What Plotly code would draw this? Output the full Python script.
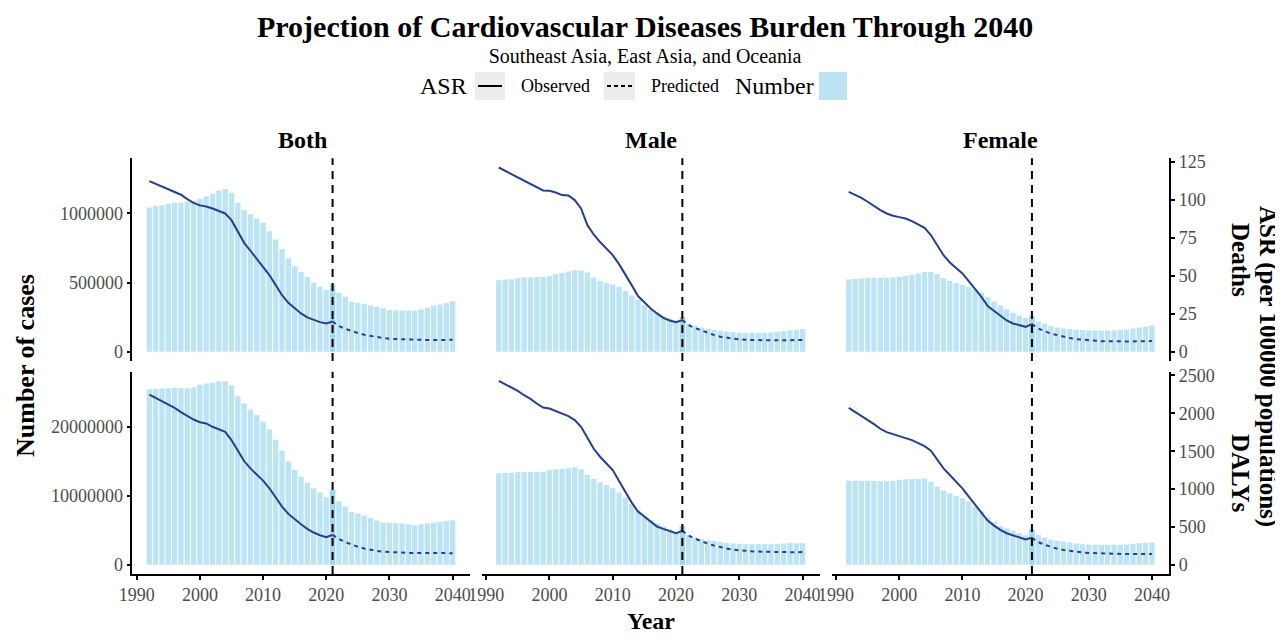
import plotly.graph_objects as go

# ---------------- data ----------------
years_obs = list(range(1992, 2022))
years_pred = list(range(2021, 2041))
sexes = ["Both", "Male", "Female"]
measures = ["Deaths", "DALYs"]
x_ticks = [1990, 2000, 2010, 2020, 2030, 2040]
deaths_num_ticks = [0, 500000, 1000000]
dalys_num_ticks = [0, 10000000, 20000000]
deaths_asr_ticks = [0, 25, 50, 75, 100, 125]
dalys_asr_ticks = [0, 500, 1000, 1500, 2000, 2500]

# Deaths - number of cases
both_deaths_num_obs = [1043000, 1053000, 1060000, 1070000, 1077000, 1080000, 1082000, 1090000, 1106000, 1125000,
                       1142000, 1166000, 1176000, 1149000, 1077000, 1024000, 995000, 964000, 933000, 872000,
                       812000, 742000, 675000, 619000, 576000, 540000, 501000, 470000, 446000, 489000]
both_deaths_num_pred = [489000, 427000, 398000, 361000, 354000, 345000, 335000, 325000, 316000, 301000,
                        299000, 299000, 299000, 296000, 306000, 320000, 333000, 342000, 352000, 366000]
male_deaths_num_obs = [518000, 523000, 525000, 533000, 537000, 537000, 540000, 542000, 547000, 562000,
                       571000, 581000, 590000, 588000, 574000, 537000, 513000, 499000, 487000, 470000,
                       441000, 407000, 374000, 337000, 306000, 282000, 260000, 241000, 227000, 253000]
male_deaths_num_pred = [253000, 205000, 188000, 176000, 166000, 159000, 152000, 147000, 142000, 137000,
                        137000, 137000, 137000, 137000, 140000, 145000, 149000, 154000, 159000, 164000]
female_deaths_num_obs = [525000, 528000, 530000, 533000, 535000, 535000, 535000, 537000, 542000, 549000,
                         557000, 566000, 576000, 576000, 562000, 533000, 511000, 496000, 484000, 470000,
                         451000, 427000, 395000, 364000, 335000, 306000, 282000, 263000, 246000, 260000]
female_deaths_num_pred = [260000, 219000, 202000, 186000, 176000, 169000, 164000, 159000, 157000, 154000,
                          154000, 154000, 154000, 154000, 157000, 161000, 169000, 176000, 183000, 190000]

# Deaths - ASR
both_deaths_asr_obs = [112.2, 110.4, 108.9, 107.1, 105.4, 103.2, 100.3, 97.9, 96.2, 95.5,
                       94.2, 92.7, 90.9, 86.5, 78.9, 71.6, 66.4, 61.3, 55.8, 50.4,
                       43.8, 37.2, 32.2, 28.5, 25.2, 22.6, 20.8, 19.5, 18.6, 19.9]
both_deaths_asr_pred = [19.9, 16.9, 15.1, 13.6, 12.3, 11.2, 10.3, 9.6, 9.0, 8.5,
                        8.3, 8.1, 7.9, 7.8, 7.7, 7.7, 7.7, 7.8, 7.8, 7.9]
male_deaths_asr_obs = [121.1, 118.9, 116.8, 115.0, 112.8, 110.6, 108.0, 106.0, 105.8, 104.7,
                       103.0, 102.7, 99.7, 94.2, 83.2, 77.1, 72.1, 67.5, 63.5, 57.6,
                       51.0, 43.8, 36.6, 32.2, 28.5, 25.2, 22.3, 20.6, 19.5, 20.8]
male_deaths_asr_pred = [20.8, 17.5, 15.6, 14.0, 12.5, 11.0, 9.9, 9.2, 8.5, 8.1,
                        7.9, 7.7, 7.6, 7.5, 7.5, 7.5, 7.5, 7.6, 7.7, 7.8]
female_deaths_asr_obs = [105.1, 103.4, 101.2, 98.6, 95.7, 93.1, 90.9, 89.4, 88.5, 87.6,
                         85.9, 83.9, 81.5, 76.7, 70.1, 63.5, 58.7, 54.8, 51.5, 46.4,
                         41.6, 36.1, 30.0, 26.7, 23.4, 20.6, 18.6, 17.5, 16.4, 18.2]
female_deaths_asr_pred = [18.2, 15.3, 13.6, 12.0, 11.0, 9.9, 9.0, 8.3, 7.9, 7.4,
                          7.2, 7.0, 6.9, 6.8, 6.8, 6.8, 6.8, 6.9, 7.0, 7.1]

# DALYs - number of cases
both_dalys_num_obs = [25459000, 25555000, 25604000, 25652000, 25700000, 25652000, 25652000, 25749000, 26135000, 26328000,
                      26425000, 26667000, 26667000, 26039000, 24493000, 23430000, 22560000, 21739000, 20773000, 19662000,
                      18116000, 16570000, 15024000, 13768000, 12802000, 11932000, 11111000, 10483000, 9807000, 10870000]
both_dalys_num_pred = [10870000, 9179000, 8454000, 7681000, 7440000, 7150000, 6812000, 6425000, 6135000, 6087000,
                       6039000, 5990000, 5894000, 5749000, 5894000, 6039000, 6135000, 6232000, 6377000, 6473000]
male_dalys_num_obs = [13285000, 13333000, 13382000, 13478000, 13478000, 13478000, 13478000, 13527000, 13768000, 13865000,
                      13961000, 14058000, 14155000, 13865000, 13043000, 12464000, 11981000, 11594000, 11111000, 10483000,
                      9758000, 8841000, 7874000, 7101000, 6522000, 6039000, 5556000, 5169000, 4734000, 5652000]
male_dalys_num_pred = [5652000, 4348000, 3961000, 3720000, 3575000, 3478000, 3333000, 3188000, 3092000, 3043000,
                       2995000, 2995000, 2995000, 2995000, 2995000, 3043000, 3092000, 3140000, 3140000, 3140000]
female_dalys_num_obs = [12222000, 12222000, 12222000, 12222000, 12174000, 12126000, 12126000, 12222000, 12319000, 12415000,
                        12464000, 12512000, 12512000, 12077000, 11353000, 10773000, 10386000, 10000000, 9662000, 9179000,
                        8454000, 7729000, 6908000, 6232000, 5652000, 5266000, 4928000, 4589000, 4300000, 5169000]
female_dalys_num_pred = [5169000, 4348000, 3961000, 3623000, 3478000, 3382000, 3237000, 3092000, 2995000, 2947000,
                         2899000, 2899000, 2899000, 2899000, 2899000, 2947000, 3043000, 3140000, 3188000, 3237000]

# DALYs - ASR
both_dalys_asr_obs = [2248, 2204, 2169, 2120, 2072, 2015, 1962, 1918, 1883, 1866,
                      1822, 1791, 1756, 1646, 1506, 1370, 1273, 1194, 1111, 1010,
                      887, 768, 672, 601, 536, 474, 426, 391, 364, 395]
both_dalys_asr_pred = [395, 340, 300, 265, 238, 215, 197, 184, 174, 168,
                       164, 160, 157, 155, 154, 153, 153, 153, 153, 154]
male_dalys_asr_obs = [2428, 2384, 2331, 2296, 2239, 2191, 2129, 2076, 2063, 2028,
                      1989, 1962, 1910, 1822, 1677, 1532, 1427, 1339, 1251, 1106,
                      966, 821, 702, 637, 562, 505, 474, 443, 417, 448]
male_dalys_asr_pred = [448, 385, 345, 310, 280, 255, 233, 215, 200, 190,
                       183, 178, 174, 171, 169, 168, 167, 167, 167, 168]
female_dalys_asr_obs = [2072, 2019, 1971, 1914, 1857, 1796, 1752, 1725, 1703, 1673,
                        1646, 1611, 1567, 1506, 1383, 1273, 1185, 1098, 1010, 900,
                        790, 680, 584, 518, 461, 417, 386, 360, 334, 356]
female_dalys_asr_pred = [356, 300, 265, 235, 212, 195, 181, 170, 162, 156,
                         152, 148, 146, 144, 143, 142, 142, 142, 142, 143]

panels = {
    ("Deaths", "Both"): (both_deaths_num_obs, both_deaths_num_pred, both_deaths_asr_obs, both_deaths_asr_pred),
    ("Deaths", "Male"): (male_deaths_num_obs, male_deaths_num_pred, male_deaths_asr_obs, male_deaths_asr_pred),
    ("Deaths", "Female"): (female_deaths_num_obs, female_deaths_num_pred, female_deaths_asr_obs, female_deaths_asr_pred),
    ("DALYs", "Both"): (both_dalys_num_obs, both_dalys_num_pred, both_dalys_asr_obs, both_dalys_asr_pred),
    ("DALYs", "Male"): (male_dalys_num_obs, male_dalys_num_pred, male_dalys_asr_obs, male_dalys_asr_pred),
    ("DALYs", "Female"): (female_dalys_num_obs, female_dalys_num_pred, female_dalys_asr_obs, female_dalys_asr_pred),
}
num_ticks = {"Deaths": deaths_num_ticks, "DALYs": dalys_num_ticks}
asr_ticks = {"Deaths": deaths_asr_ticks, "DALYs": dalys_asr_ticks}

# ---------------- styling / layout ----------------
W, H = 1283, 638
OFF = 8  # page body margin in the browser
FONT = "Liberation Serif, Times New Roman, serif"
FACTOR = 11000  # secondary-axis transform: number = ASR * FACTOR
BAR_COLOR = "rgba(135,206,235,0.55)"
LINE_COLOR = "#27408B"
TICK_COLOR = "#4D4D4D"
col_px = [(132.3, 470.0), (481.7, 820.0), (831.7, 1169.3)]
row_px = [(158.3, 361.0), (371.7, 574.0)]
X_RANGE = [1989.3, 2042.75]


def fx(p):
    return (p - OFF) / W


def fy(p):
    return 1 - (p - OFF) / H


fig = go.Figure()
layout_axes = {}
shapes = []

common_axis = dict(ticklen=4, tickwidth=1.5, tickcolor="black", linecolor="black", linewidth=1.5,
                   tickfont=dict(family=FONT, size=18, color=TICK_COLOR),
                   showgrid=False, zeroline=False, fixedrange=True, automargin=False)

for r, meas in enumerate(measures):
    vals = []
    for s in sexes:
        no, npred, ao, ap = panels[(meas, s)]
        vals += list(no) + list(npred) + [a * FACTOR for a in ao] + [a * FACTOR for a in ap]
    vmax = max(vals)
    prim_range = [-0.05 * vmax, 1.05 * vmax]
    sec_range = [v / FACTOR for v in prim_range]
    for c, s in enumerate(sexes):
        idx = r * 3 + c + 1
        xa = "x" if idx == 1 else f"x{idx}"
        ya = "y" if idx == 1 else f"y{idx}"
        ya2 = f"y{idx + 6}"
        no, npred, ao, ap = panels[(meas, s)]
        fig.add_trace(go.Bar(x=years_obs, y=no, width=0.85, marker=dict(color=BAR_COLOR, line=dict(width=0)),
                             xaxis=xa, yaxis=ya, showlegend=False))
        fig.add_trace(go.Bar(x=years_pred, y=npred, width=0.85, marker=dict(color=BAR_COLOR, line=dict(width=0)),
                             xaxis=xa, yaxis=ya, showlegend=False))
        fig.add_trace(go.Scatter(x=years_obs, y=ao, mode="lines", line=dict(color=LINE_COLOR, width=2),
                                 xaxis=xa, yaxis=ya2, showlegend=False))
        fig.add_trace(go.Scatter(x=years_pred, y=ap, mode="lines",
                                 line=dict(color=LINE_COLOR, width=2, dash="4px,4px"),
                                 xaxis=xa, yaxis=ya2, showlegend=False))

        bottom = r == 1
        layout_axes["xaxis" if idx == 1 else f"xaxis{idx}"] = dict(
            domain=[fx(col_px[c][0]), fx(col_px[c][1])], anchor=ya, range=X_RANGE,
            tickvals=x_ticks, ticktext=[str(t) for t in x_ticks],
            showticklabels=bottom, showline=bottom, ticks="outside" if bottom else "",
            **common_axis)
        left = c == 0
        layout_axes["yaxis" if idx == 1 else f"yaxis{idx}"] = dict(
            domain=[fy(row_px[r][1]), fy(row_px[r][0])], anchor=xa, range=prim_range,
            tickvals=num_ticks[meas], tickformat="d",
            showticklabels=left, showline=left, ticks="outside" if left else "",
            **common_axis)
        right = c == 2
        layout_axes[f"yaxis{idx + 6}"] = dict(
            overlaying=ya, anchor=xa, side="right", range=sec_range,
            tickvals=asr_ticks[meas], tickformat="d",
            showticklabels=right, showline=right, ticks="outside" if right else "",
            **common_axis)
        shapes.append(dict(type="line", xref=xa, yref=f"{ya} domain", x0=2021, x1=2021, y0=0, y1=1,
                           line=dict(color="black", width=2, dash="8px,6px"), layer="above"))

# legend keys (manual, ggplot-like)
KEY_BG = "#EDEDED"
shapes += [
    dict(type="rect", xref="paper", yref="paper", x0=fx(475), x1=fx(505), y0=fy(100), y1=fy(72),
         fillcolor=KEY_BG, line=dict(width=0), layer="below"),
    dict(type="line", xref="paper", yref="paper", x0=fx(478), x1=fx(502), y0=fy(86), y1=fy(86),
         line=dict(color="black", width=2)),
    dict(type="rect", xref="paper", yref="paper", x0=fx(604), x1=fx(635), y0=fy(100), y1=fy(72),
         fillcolor=KEY_BG, line=dict(width=0), layer="below"),
    dict(type="line", xref="paper", yref="paper", x0=fx(607), x1=fx(632), y0=fy(86), y1=fy(86),
         line=dict(color="black", width=2, dash="4px,3px")),
    dict(type="rect", xref="paper", yref="paper", x0=fx(819), x1=fx(847), y0=fy(100), y1=fy(72),
         fillcolor=BAR_COLOR, line=dict(width=0)),
]


def ann(text, x, y, size, bold=False, angle=0, color="black", xanchor="center", yanchor="middle"):
    return dict(text=f"<b>{text}</b>" if bold else text, x=fx(x), y=fy(y), xref="paper", yref="paper",
                showarrow=False, textangle=angle, xanchor=xanchor, yanchor=yanchor,
                font=dict(family=FONT, size=size, color=color))


title_text = "Projection of Cardiovascular Diseases Burden Through 2040"
subtitle_text = "Southeast Asia, East Asia, and Oceania"

annotations = [
    ann(f"<span style='font-size:30px'><b>{title_text}</b></span><br>{subtitle_text}",
        645, OFF, 20, yanchor="top"),
    ann("ASR", 469, 86, 24, xanchor="right"),
    ann("Observed", 519, 86, 18, xanchor="left"),
    ann("Predicted", 649, 86, 18, xanchor="left"),
    ann("Number", 733, 86, 24, xanchor="left"),
    ann("Both", 302, 140, 24, bold=True),
    ann("Male", 651, 140, 24, bold=True),
    ann("Female", 1000, 140, 24, bold=True),
    ann("Deaths", 1241, 260, 25, bold=True, angle=90),
    ann("DALYs", 1241, 473, 25, bold=True, angle=90),
    ann("ASR (per 100000 populations)", 1268, 366, 25, bold=True, angle=90),
    ann("Number of cases", 25, 366, 26, bold=True, angle=-90),
    ann("Year", 651, 621, 24, bold=True),
]

fig.update_layout(
    width=W, height=H, margin=dict(l=0, r=0, t=0, b=0),
    paper_bgcolor="white", plot_bgcolor="rgba(0,0,0,0)",
    barmode="overlay", showlegend=False,
    font=dict(family=FONT, color="black"),
    shapes=shapes, annotations=annotations,
    **layout_axes,
)

fig.write_html("out.html")
